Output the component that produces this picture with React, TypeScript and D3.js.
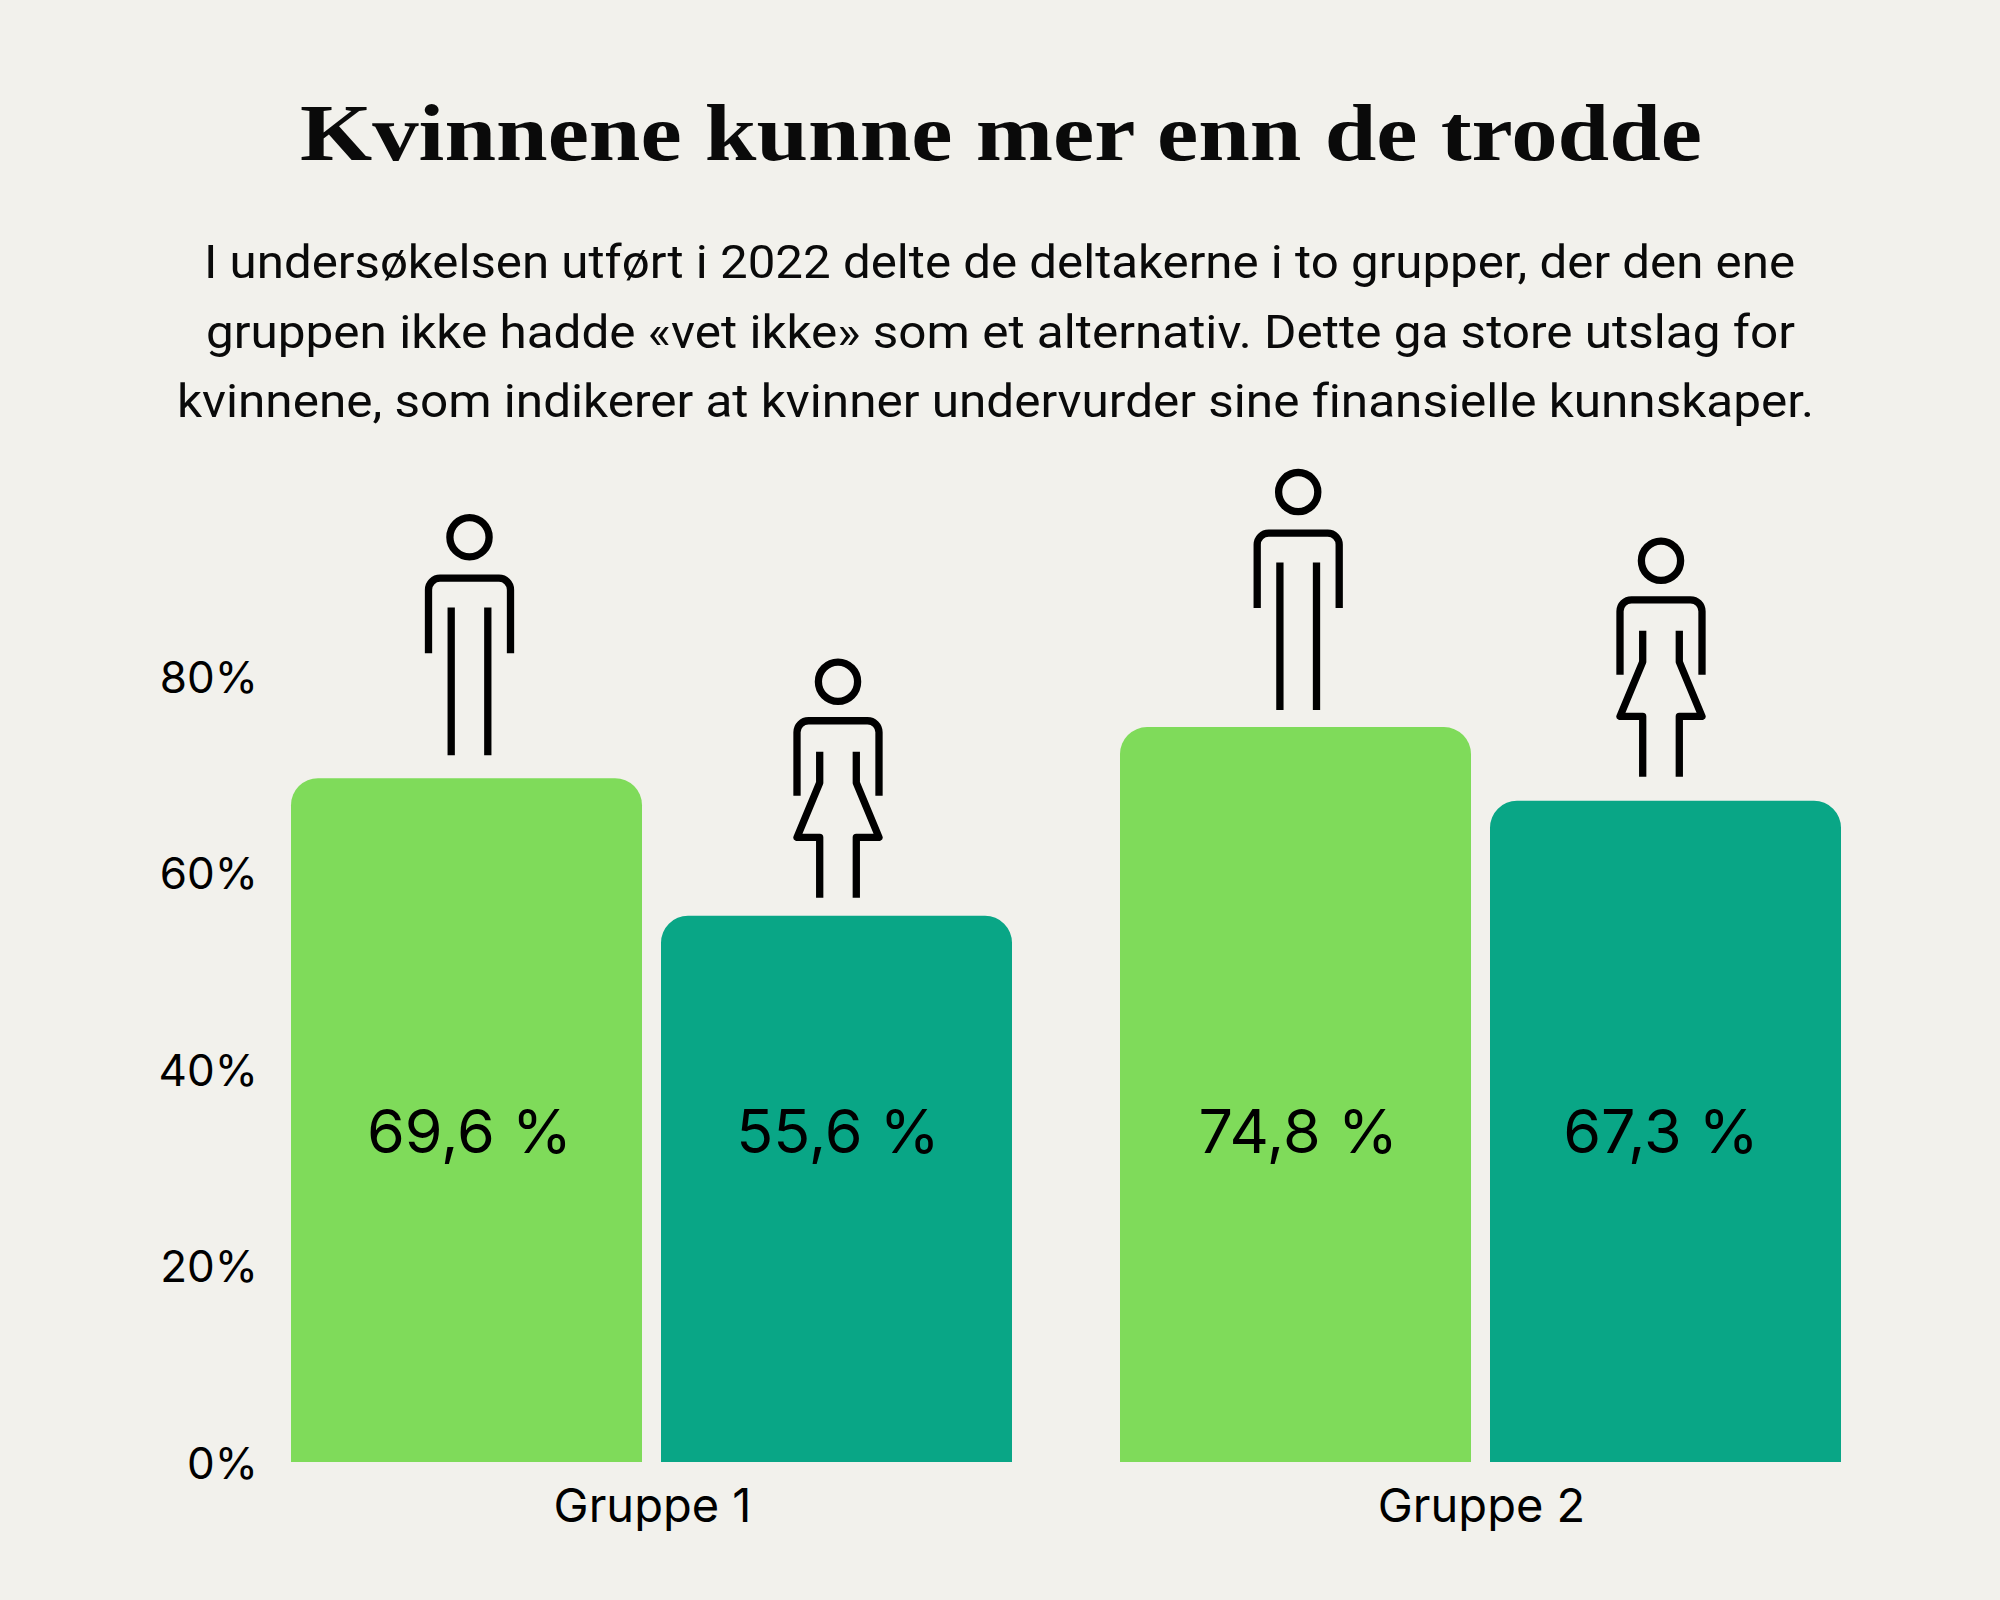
import {useEffect, useRef} from 'react';
import * as d3 from 'd3';

const GROUPS = ['Gruppe 1', 'Gruppe 2'];
const SERIES = ['Menn', 'Kvinner'];
const MEN_VALUES = [69.6, 74.8];
const WOMEN_VALUES = [55.6, 67.3];
const VALUE_LABELS = ['69,6 %', '55,6 %', '74,8 %', '67,3 %'];
const Y_TICKS = [0, 20, 40, 60, 80];

const TITLE = 'Kvinnene kunne mer enn de trodde';
const INTRO_LINES = [
    'I undersøkelsen utført i 2022 delte de deltakerne i to grupper, der den ene',
    'gruppen ikke hadde «vet ikke» som et alternativ. Dette ga store utslag for',
    'kvinnene, som indikerer at kvinner undervurder sine finansielle kunnskaper.'
];

// icons do not sit at the same distance above each bar in the original
const ICON_GAPS = [23, 18, 17, 24];
const ICON_SHIFTS = [3, 1.5, 2.7, -4.5];

const WIDTH = 2000;
const HEIGHT = 1600;
const BG = '#f2f1ec';
const COLORS = {Menn: '#7fdb5a', Kvinner: '#09a686'};
const SANS = 'Inter, sans-serif';

const CHART = {left: 291, right: 1841, top: 676, bottom: 1462, radius: 27, groupGap: 108, barGap: 19};

const x0 = d3.scaleBand()
    .domain(GROUPS)
    .range([CHART.left, CHART.right])
    .paddingInner(CHART.groupGap / ((CHART.right - CHART.left + CHART.groupGap) / 2));

const x1 = d3.scaleBand()
    .domain(SERIES)
    .range([0, x0.bandwidth()])
    .paddingInner(CHART.barGap / ((x0.bandwidth() + CHART.barGap) / 2));

const y = d3.scaleLinear().domain([0, 80]).range([CHART.bottom, CHART.top]);

const BARS = GROUPS.flatMap((group, i) => [
    {group, series: SERIES[0], value: MEN_VALUES[i]},
    {group, series: SERIES[1], value: WOMEN_VALUES[i]}
]);

const barPath = (x, top, w, bottom, r) => {
    const p = d3.path();
    p.moveTo(x, bottom);
    p.lineTo(x, top + r);
    p.arcTo(x, top, x + r, top, r);
    p.lineTo(x + w - r, top);
    p.arcTo(x + w, top, x + w, top + r, r);
    p.lineTo(x + w, bottom);
    p.closePath();
    return p.toString();
};

const ARMS = 'M-41,-102 V-165.5 A11.5,11.5 0 0 1 -29.5,-177 H29.5 A11.5,11.5 0 0 1 41,-165.5 V-102';

function Person({kind, x, bottom}) {
    const common = {fill: 'none', stroke: '#000', strokeWidth: 7.3};
    return (
        <g transform={`translate(${x},${bottom})`}>
            <circle cx={0} cy={kind === 'Menn' ? -218 : -216} r={19.6} {...common} />
            <path d={ARMS} {...common} />
            {kind === 'Menn' ? (
                <path d="M-18.3,-147.7 V0 M18.3,-147.7 V0" {...common} />
            ) : (
                <path
                    d="M-18.3,-146 V-115 L-41,-60.4 H-18.3 V0 M18.3,-146 V-115 L41,-60.4 H18.3 V0"
                    strokeLinejoin="round"
                    {...common}
                />
            )}
        </g>
    );
}

export default function App() {
    const yAxis = useRef(null);
    const xAxis = useRef(null);

    useEffect(() => {
        const yAxisFunction = d3.axisLeft(y)
            .tickValues(Y_TICKS)
            .tickFormat((d) => `${d}%`)
            .tickSize(0)
            .tickPadding(33);

        const xAxisFunction = d3.axisBottom(x0)
            .tickSize(0)
            .tickPadding(0);

        d3.select(yAxis.current).call(yAxisFunction);
        d3.select(xAxis.current).call(xAxisFunction);

        [yAxis, xAxis].forEach((axis) => {
            const g = d3.select(axis.current);
            g.select('.domain').remove();
            g.attr('font-family', SANS);
            g.selectAll('text').attr('fill', '#000');
        });

        d3.select(yAxis.current).attr('font-size', 44).selectAll('text').attr('dy', 16.3);
        d3.select(xAxis.current).attr('font-size', 47).selectAll('text').attr('x', 1).attr('y', 0).attr('dy', 59.7);
    }, []);

    return (
        <svg
            width={WIDTH}
            height={HEIGHT}
            style={{position: 'absolute', left: 0, top: 0, display: 'block', background: BG}}
        >
            <text
                x={300}
                y={159.5}
                textLength={1402}
                lengthAdjust="spacingAndGlyphs"
                fontFamily="'Liberation Serif', serif"
                fontWeight="bold"
                fontSize={80}
                fill="#0a0a0a"
            >
                {TITLE}
            </text>

            {INTRO_LINES.map((line, i) => (
                <text
                    key={i}
                    x={[204, 206, 177][i]}
                    y={[278, 347.5, 416.5][i]}
                    textLength={[1591, 1589, 1637][i]}
                    lengthAdjust="spacingAndGlyphs"
                    fontFamily="Roboto, sans-serif"
                    fontSize={47}
                    fill="#0a0a0a"
                    style={{fontVariantLigatures: 'none'}}
                >
                    {line}
                </text>
            ))}

            {BARS.map((d) => (
                <path
                    key={d.group + d.series}
                    d={barPath(x0(d.group) + x1(d.series), y(d.value), x1.bandwidth(), y(0), CHART.radius)}
                    fill={COLORS[d.series]}
                />
            ))}

            {BARS.map((d, i) => {
                const cx = x0(d.group) + x1(d.series) + x1.bandwidth() / 2 + ICON_SHIFTS[i];
                return (
                    <g key={d.group + d.series}>
                        <Person kind={d.series} x={cx} bottom={y(d.value) - ICON_GAPS[i]} />
                        <text
                            x={cx}
                            y={1152.7}
                            textAnchor="middle"
                            fontFamily={SANS}
                            fontSize={61}
                            fill="#000"
                        >
                            {VALUE_LABELS[i]}
                        </text>
                    </g>
                );
            })}

            <g ref={yAxis} transform={`translate(${CHART.left},0)`} />
            <g ref={xAxis} transform={`translate(0,${CHART.bottom})`} />
        </svg>
    );
}
